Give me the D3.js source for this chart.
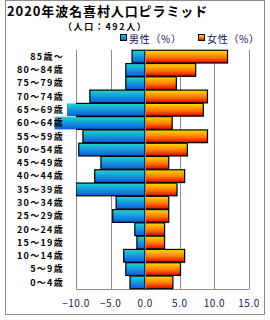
<!DOCTYPE html>
<html><head><meta charset="utf-8">
<script src="https://cdn.jsdelivr.net/npm/d3@7"></script>
<style>body{margin:0;background:#fff;}svg{display:block;font-family:"Noto Sans CJK JP","DejaVu Sans",sans-serif;}</style>
</head><body>
<script>
const categories = ["85歳〜","80〜84歳","75〜79歳","70〜74歳","65〜69歳","60〜64歳","55〜59歳","50〜54歳","45〜49歳","40〜44歳","35〜39歳","30〜34歳","25〜29歳","20〜24歳","15〜19歳","10〜14歳","5〜9歳","0〜4歳"];
const male = [1.9,2.8,2.8,8.0,11.3,13.1,9.0,9.6,6.4,7.3,10.0,4.2,4.7,1.5,1.2,3.1,2.8,2.2];
const female = [11.9,7.3,4.5,9.0,8.4,3.9,9.0,6.1,3.4,5.7,4.6,3.4,3.4,2.8,2.8,5.7,5.1,4.0];
const tickValues = [-10,-5,0,5,10,15];
const title = "2020年波名喜村人口ピラミッド";
const subtitle = "（人口：492人）";
const legendLabels = ["男性（%）","女性（%）"];

const W=270,H=320;
const svg=d3.select("body").append("svg").attr("width",W).attr("height",H);
const defs=svg.append("defs");
const gm=defs.append("linearGradient").attr("id","gm").attr("x1",0).attr("y1",0).attr("x2",0).attr("y2",1);
gm.append("stop").attr("offset","0%").attr("stop-color","#22d6cf");
gm.append("stop").attr("offset","100%").attr("stop-color","#0a5ae6");
const gf=defs.append("linearGradient").attr("id","gf").attr("x1",0).attr("y1",0).attr("x2",0).attr("y2",1);
gf.append("stop").attr("offset","0%").attr("stop-color","#ffdc00");
gf.append("stop").attr("offset","55%").attr("stop-color","#ff7a00");
gf.append("stop").attr("offset","100%").attr("stop-color","#e00000");
defs.append("clipPath").attr("id","pc").append("rect").attr("x",76).attr("y",40).attr("width",180).attr("height",260);

// frame
svg.append("rect").attr("x",5.5).attr("y",0.5).attr("width",259).attr("height",314).attr("fill","none").attr("stroke","#8c8c8c");

svg.append("text").attr("x",7).attr("y",16).attr("font-size",13).attr("font-weight","bold").attr("letter-spacing",0.9).attr("fill","#000").text(title);
svg.append("text").attr("x",63).attr("y",29.5).attr("font-size",9).attr("font-weight","bold").attr("letter-spacing",1.6).attr("fill","#000").text(subtitle);

// legend
const lg=[{x:120,fill:"url(#gm)",t:legendLabels[0]},{x:198,fill:"url(#gf)",t:legendLabels[1]}];
lg.forEach(d=>{
  svg.append("rect").attr("x",d.x+0.5).attr("y",34.5).attr("width",6).attr("height",6).attr("fill",d.fill).attr("stroke","#000");
  svg.append("text").attr("x",d.x+9).attr("y",43).attr("font-size",10).attr("fill","#101060").attr("letter-spacing",0.7).text(d.t);
});

const x=d3.scaleLinear().domain([-10,15]).range([76,249]);
const y=d3.scaleBand().domain(categories).range([50,289]).paddingInner(0.04).paddingOuter(0.02);

// grid
svg.append("g").selectAll("line").data(tickValues).join("line")
  .attr("x1",d=>Math.round(x(d))+0.5).attr("x2",d=>Math.round(x(d))+0.5)
  .attr("y1",50).attr("y2",289).attr("stroke","#8c8c8c");
svg.append("line").attr("x1",76).attr("x2",249.5).attr("y1",289.5).attr("y2",289.5).attr("stroke","#8c8c8c");

const bars=svg.append("g");
bars.selectAll(".mf").data(male).join("rect")
  .attr("x",d=>x(-d)).attr("y",(d,i)=>y(categories[i])).attr("width",d=>x(0)-x(-d)).attr("height",y.bandwidth())
  .attr("fill","url(#gm)");
bars.selectAll(".ms").data(male).join("rect")
  .attr("x",d=>x(-d)).attr("y",(d,i)=>y(categories[i])).attr("width",d=>x(0)-x(-d)).attr("height",y.bandwidth())
  .attr("fill","none").attr("stroke","#000").attr("stroke-width",1.2).attr("clip-path","url(#pc)");
bars.selectAll(".f").data(female).join("rect")
  .attr("x",x(0)).attr("y",(d,i)=>y(categories[i])).attr("width",d=>x(d)-x(0)).attr("height",y.bandwidth())
  .attr("fill","url(#gf)").attr("stroke","#000").attr("stroke-width",1.2);
svg.append("line").attr("x1",Math.round(x(0))+0.5).attr("x2",Math.round(x(0))+0.5).attr("y1",50).attr("y2",289).attr("stroke","#8c8c8c");

// category labels
svg.append("g").selectAll("text").data(categories).join("text")
  .attr("x",64).attr("y",d=>y(d)+y.bandwidth()/2+3.3).attr("text-anchor","end")
  .attr("font-size",9).attr("font-weight","bold").attr("letter-spacing",1.3).attr("fill","#000").text(d=>d);

// x tick labels
const fmt=d3.format(".1f");
svg.append("g").selectAll("text").data(tickValues).join("text")
  .attr("x",d=>x(d)).attr("y",307).attr("text-anchor","middle")
  .attr("font-size",10).attr("letter-spacing",0.5).attr("fill","#102060").text(d=>fmt(d));
</script>
</body></html>
